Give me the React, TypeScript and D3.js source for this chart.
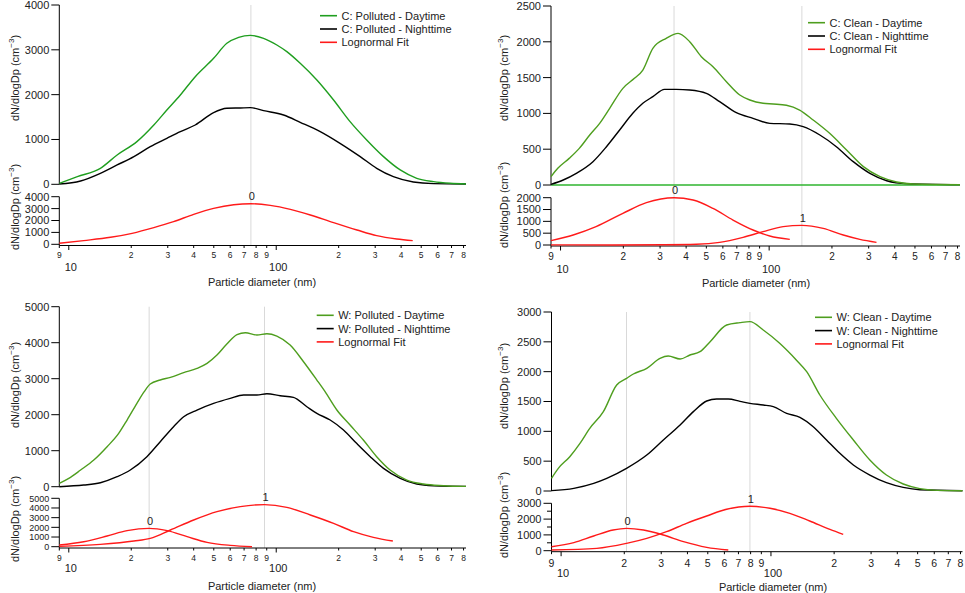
import React, { useEffect, useRef } from 'react';
import * as d3 from 'd3';

type Pt = [number, number];

// [diameter (nm), dN/dlogDp (cm^-3)]

// C: Polluted
const cPollutedDay: Pt[] = [
  [9, 22], [11, 171], [14.2, 357], [17.1, 654], [21.3, 952], [25.7, 1323], [29.7, 1658],
  [34.5, 1993], [40.7, 2401], [49.9, 2810], [57.8, 3145], [65.9, 3279], [75, 3323],
  [86.9, 3256], [100.7, 3108], [112.5, 2959], [130.5, 2699], [157, 2327], [189, 1881],
  [227, 1398], [273, 989], [329, 617], [396, 320], [476, 134], [573, 59], [689, 22], [822, 7],
];
const cPollutedNight: Pt[] = [
  [9, 7], [11.4, 74], [14.2, 245], [17.1, 431], [20.6, 617], [24.7, 840], [29.7, 1026],
  [34.5, 1175], [40.7, 1323], [49.9, 1599], [57.8, 1695], [67.2, 1703], [75, 1710],
  [86.9, 1643], [108.5, 1546], [130.5, 1383], [163, 1175], [203, 914], [254, 617],
  [305, 357], [367, 171], [458, 52], [573, 15], [822, 7],
];
const cPollutedFit0: Pt[] = [
  [9, 84], [11.8, 308], [15.9, 587], [20.2, 923], [25.7, 1399], [32, 1902], [40, 2517],
  [49.9, 3021], [62.4, 3329], [75.5, 3413], [93.6, 3273], [117, 2937], [146, 2462],
  [189, 1818], [245, 1203], [305, 727], [381, 448], [455, 308],
];

// C: Clean
const cCleanDay: Pt[] = [
  [9, 116], [9.7, 233], [11, 372], [12.3, 512], [13.8, 698], [15.4, 861], [17.2, 1071],
  [19.9, 1350], [22.6, 1490], [24.8, 1606], [27.7, 1909], [32.1, 2048], [36.6, 2118],
  [41.6, 2002], [47.3, 1792], [53.8, 1653], [62.4, 1443], [72.3, 1257], [80.8, 1187],
  [93.5, 1141], [104.5, 1131], [121, 1113], [140, 1047], [162.6, 908], [195, 722],
  [235, 489], [283, 256], [340, 116], [408, 42], [491, 14], [822, 5],
];
const cCleanNight: Pt[] = [
  [9, 9], [10.3, 70], [11.9, 163], [14.3, 326], [16.6, 535], [19.2, 768], [22.2, 1001],
  [24.8, 1141], [27.7, 1234], [31.5, 1336], [35.9, 1336], [41.6, 1327], [50, 1280],
  [57.9, 1164], [69.6, 1010], [83.7, 931], [100.7, 861], [125.6, 852], [145.6, 815],
  [175, 698], [210, 535], [253, 326], [304, 163], [366, 60], [456, 19], [822, 5],
];
const cCleanBase: Pt[] = [[9, 0], [822, 0]];
const cCleanFit0: Pt[] = [
  [9, 183], [11.5, 423], [14.8, 775], [19.9, 1338], [25.8, 1789], [35, 2000], [43.2, 1901],
  [53.8, 1549], [67.1, 1056], [83.7, 634], [100.7, 380], [125.6, 239],
];
const cCleanFit1: Pt[] = [
  [9, 5], [17.8, 2], [31, 10], [44.8, 30], [57.9, 110], [75, 324], [93.5, 563],
  [116.7, 775], [143.5, 831], [181.6, 704], [226.6, 423], [272, 239], [327, 113],
];

// W: Polluted
const wPollutedDay: Pt[] = [
  [9, 93], [10, 231], [11.4, 463], [13.2, 741], [15.3, 1111], [17.4, 1481], [19.1, 1852],
  [21.3, 2315], [23.1, 2639], [24.7, 2852], [27.6, 2963], [30.9, 3037], [35.8, 3167],
  [41.5, 3287], [46.4, 3426], [51.8, 3657], [57.8, 3963], [64.7, 4222], [71, 4278],
  [80.7, 4213], [90.2, 4250], [100.7, 4185], [116.7, 3935], [135.4, 3472], [157, 2963],
  [172, 2639], [196, 2130], [227, 1713], [263, 1296], [305, 833], [354, 463], [426, 185],
  [512, 74], [639, 28], [822, 9],
];
const wPollutedNight: Pt[] = [
  [9, 0], [11.8, 46], [14.2, 111], [17.1, 278], [19.8, 463], [23.8, 833], [27.6, 1250],
  [32, 1667], [35.8, 1944], [41.5, 2130], [49.9, 2315], [60, 2454], [69.6, 2546],
  [80.7, 2546], [90.2, 2583], [104.5, 2528], [121, 2481], [140.5, 2222], [157, 2037],
  [182, 1852], [211, 1574], [244, 1204], [284, 833], [329, 509], [396, 231], [476, 74],
  [573, 28], [822, 9],
];
const wPollutedFit0: Pt[] = [
  [9, 172], [11.8, 517], [15.3, 1103], [19.1, 1655], [24.4, 1897], [29.8, 1655],
  [37.2, 1034], [46.4, 448], [60, 138], [76.4, 0],
];
const wPollutedFit1: Pt[] = [
  [9, 34], [14.2, 241], [20.6, 586], [24.7, 862], [30.9, 1724], [40, 2759], [51.8, 3621],
  [67.1, 4138], [87.8, 4345], [112.5, 4069], [146, 3276], [189, 2414], [236, 1552],
  [294, 966], [365, 586],
];

// W: Clean
const wCleanDay: Pt[] = [
  [9, 212], [9.7, 380], [11, 575], [12.3, 799], [13.7, 1050], [15.9, 1330], [18.4, 1777],
  [20.5, 1888], [22.1, 1961], [25.6, 2056], [29.6, 2223], [32.4, 2263], [36.9, 2212],
  [41.1, 2279], [45.9, 2335], [51.3, 2503], [61.5, 2782], [71.2, 2821], [79.4, 2838],
  [91.9, 2698], [110, 2475], [132, 2196], [148, 2000], [171, 1609], [205, 1218],
  [247, 855], [296, 520], [355, 268], [427, 117], [512, 39], [615, 11], [818, 5],
];
const wCleanNight: Pt[] = [
  [9, 6], [11.5, 45], [14.3, 128], [16.5, 212], [20.5, 380], [25.6, 603], [30.7, 855],
  [36.9, 1106], [42.7, 1330], [49.4, 1508], [55.1, 1542], [62.6, 1542], [71.2, 1503],
  [79.4, 1469], [91.9, 1441], [102.6, 1413], [118.8, 1302], [137.4, 1235], [159, 1078],
  [184, 855], [213, 631], [247, 436], [296, 268], [355, 140], [427, 61], [512, 22], [818, 5],
];
const wCleanFit0: Pt[] = [
  [9, 254], [11.5, 507], [14.3, 930], [17.7, 1310], [20.5, 1415], [24.7, 1310],
  [30.7, 993], [38.3, 570], [49.4, 211], [62.6, 42],
];
const wCleanFit1: Pt[] = [
  [9, 42], [14.8, 148], [20.5, 465], [25.6, 782], [31.8, 1204], [39.6, 1732], [49.4, 2197],
  [61.5, 2620], [79.4, 2810], [98.9, 2683], [123, 2366], [153, 1880], [191, 1352], [221, 1035],
];

const xMinorTicks = [9, 20, 30, 40, 50, 60, 70, 80, 90, 200, 300, 400, 500, 600, 700, 800];
const xMajorTicks = [10, 100];

const FONT = 'Liberation Sans, Arial, Helvetica, sans-serif';
const RED = '#ff1a1a';

interface Layout {
  x0: number; x1: number; xMax: number;
  upTop: number; upZero: number; lowTop: number; lowZero: number; axisY: number;
  lowFont: number;
  digitY: number; digitSize: number; bigY: number; titleX: number; titleY: number;
  yTitleX: number; yTitleUp: number; yTitleLow: number;
  legX: number; legY: number;
}

interface PanelProps {
  name: string;
  day: Pt[]; night: Pt[]; base?: Pt[]; fits: Pt[][];
  green: string;
  upMax: number; upStep: number; lowTopTick: number; lowStep: number; lowMinor?: number;
  L: Layout;
}

const Panel: React.FC<PanelProps> = (p) => {
  const ref = useRef<SVGGElement | null>(null);

  useEffect(() => {
    if (!ref.current) return;
    const g = d3.select(ref.current);
    g.selectAll('*').remove();
    const L = p.L;

    const x = d3.scaleLog().domain([9, L.xMax]).range([L.x0, L.x1]);
    const yUp = d3.scaleLinear().domain([0, p.upMax]).range([L.upZero, L.upTop]);
    const yLow = d3.scaleLinear().domain([0, p.lowTopTick]).range([L.lowZero, L.lowTop]);

    // gray lines at the mode diameters
    p.fits.forEach(f => {
      const pk = f.reduce((a, b) => (b[1] > a[1] ? b : a));
      g.append('line')
        .attr('x1', x(pk[0])).attr('x2', x(pk[0]))
        .attr('y1', L.upTop).attr('y2', L.axisY)
        .attr('stroke', '#d9d9d9').attr('stroke-width', 1);
    });

    const yAxis = (scale: d3.ScaleLinear<number, number>, top: number, bottom: number,
      step: number, maxTick: number, fontSize: number, minor?: number) => {
      g.append('line').attr('x1', L.x0).attr('x2', L.x0).attr('y1', top).attr('y2', bottom)
        .attr('stroke', '#000').attr('stroke-width', 1);
      if (minor) {
        d3.range(minor, maxTick, minor).forEach(v => {
          if (v % step === 0) return;
          g.append('line').attr('x1', L.x0 - 4.5).attr('x2', L.x0)
            .attr('y1', scale(v)).attr('y2', scale(v)).attr('stroke', '#000');
        });
      }
      d3.range(0, maxTick + 1, step).forEach(v => {
        g.append('line').attr('x1', L.x0 - 8).attr('x2', L.x0)
          .attr('y1', scale(v)).attr('y2', scale(v)).attr('stroke', '#000');
        g.append('text').attr('x', L.x0 - 10).attr('y', scale(v) + fontSize * 0.36)
          .attr('text-anchor', 'end').attr('font-size', fontSize).attr('font-family', FONT)
          .attr('fill', '#222').text(String(v));
      });
    };
    yAxis(yUp, L.upTop, L.upZero, p.upStep, p.upMax, 11);
    yAxis(yLow, L.lowTop, L.axisY, p.lowStep, p.lowTopTick, L.lowFont, p.lowMinor);

    const yTitle = (cy: number) => {
      const t = g.append('text')
        .attr('transform', `translate(${L.yTitleX},${cy}) rotate(-90)`)
        .attr('text-anchor', 'middle').attr('font-size', 11).attr('font-family', FONT).attr('fill', '#222');
      t.append('tspan').text('dN/dlogDp (cm');
      t.append('tspan').attr('font-size', 8).attr('dy', -5).text('−3');
      t.append('tspan').attr('dy', 5).text(')');
    };
    yTitle(L.yTitleUp);
    yTitle(L.yTitleLow);

    // log x axis under the lower plot
    g.append('line').attr('x1', L.x0).attr('x2', L.x1).attr('y1', L.axisY).attr('y2', L.axisY)
      .attr('stroke', '#000').attr('stroke-width', 1);
    xMinorTicks.forEach(v => {
      g.append('line').attr('x1', x(v)).attr('x2', x(v)).attr('y1', L.axisY).attr('y2', L.axisY + 2.5)
        .attr('stroke', '#000');
      g.append('text').attr('x', x(v)).attr('y', L.digitY).attr('text-anchor', 'middle')
        .attr('font-size', L.digitSize).attr('font-family', FONT).attr('fill', '#222')
        .text(String(v).charAt(0));
    });
    xMajorTicks.forEach(v => {
      g.append('line').attr('x1', x(v)).attr('x2', x(v)).attr('y1', L.axisY).attr('y2', L.axisY + 4.5)
        .attr('stroke', '#000');
      g.append('text').attr('x', x(v) + 2).attr('y', L.bigY).attr('text-anchor', 'middle')
        .attr('font-size', 11).attr('font-family', FONT).attr('fill', '#222').text(String(v));
    });
    g.append('text').attr('x', L.titleX).attr('y', L.titleY).attr('text-anchor', 'middle')
      .attr('font-size', 11).attr('font-family', FONT).attr('fill', '#222').text('Particle diameter (nm)');

    const line = (ys: d3.ScaleLinear<number, number>) => d3.line<Pt>()
      .x(d => x(d[0])).y(d => ys(d[1])).curve(d3.curveMonotoneX);
    const draw = (data: Pt[], ys: d3.ScaleLinear<number, number>, color: string) => {
      g.append('path').datum(data).attr('d', line(ys)).attr('fill', 'none')
        .attr('stroke', color).attr('stroke-width', 1.4).attr('stroke-linejoin', 'round');
    };
    if (p.base) draw(p.base, yUp, '#2fb52f');
    draw(p.night, yUp, '#000');
    draw(p.day, yUp, p.green);

    p.fits.forEach((f, i) => {
      draw(f, yLow, RED);
      const pk = f.reduce((a, b) => (b[1] > a[1] ? b : a));
      g.append('text').attr('x', x(pk[0]) + 1).attr('y', yLow(pk[1]) - 3.5).attr('text-anchor', 'middle')
        .attr('font-size', 11).attr('font-family', FONT).attr('fill', '#222').text(String(i));
    });

    const items: [string, string][] = [
      [`${p.name} - Daytime`, p.green],
      [`${p.name} - Nighttime`, '#000'],
      ['Lognormal Fit', RED],
    ];
    items.forEach(([label, color], i) => {
      const yy = L.legY + i * 13.3;
      g.append('line').attr('x1', L.legX).attr('x2', L.legX + 17).attr('y1', yy).attr('y2', yy)
        .attr('stroke', color).attr('stroke-width', 1.6);
      g.append('text').attr('x', L.legX + 21.5).attr('y', yy + 4)
        .attr('font-size', 11).attr('font-family', FONT).attr('fill', '#222').text(label);
    });
  }, [p]);

  return <g ref={ref} />;
};

const L1: Layout = {
  x0: 59.3, x1: 466, xMax: 822, upTop: 5, upZero: 184.3, lowTop: 196.7, lowZero: 244.3, axisY: 245.5,
  lowFont: 11, digitY: 258, digitSize: 8.5, bigY: 271, titleX: 262, titleY: 286,
  yTitleX: 18.5, yTitleUp: 78, yTitleLow: 207, legX: 320, legY: 15.7,
};
const L2: Layout = {
  x0: 551, x1: 960, xMax: 822, upTop: 6, upZero: 185, lowTop: 197.7, lowZero: 245, axisY: 246,
  lowFont: 11, digitY: 260, digitSize: 10, bigY: 273, titleX: 756, titleY: 286.5,
  yTitleX: 508, yTitleUp: 78, yTitleLow: 205, legX: 808, legY: 22.7,
};
const L3: Layout = {
  x0: 59.3, x1: 466, xMax: 822, upTop: 306.7, upZero: 486.7, lowTop: 498.3, lowZero: 546.7, axisY: 548,
  lowFont: 9, digitY: 561, digitSize: 8.5, bigY: 571.5, titleX: 262, titleY: 589.5,
  yTitleX: 18.5, yTitleUp: 385, yTitleLow: 519, legX: 316.7, legY: 315.3,
};
const L4: Layout = {
  x0: 551.5, x1: 962.5, xMax: 818, upTop: 312, upZero: 491, lowTop: 503.3, lowZero: 550.7, axisY: 551.7,
  lowFont: 11, digitY: 567, digitSize: 10.5, bigY: 577, titleX: 773, titleY: 590.5,
  yTitleX: 508, yTitleUp: 386, yTitleLow: 515, legX: 815, legY: 317.3,
};

const App: React.FC = () => (
  <svg width={965} height={593} style={{ position: 'absolute', left: 0, top: 0, background: '#fff' }}>
    <Panel name="C: Polluted" day={cPollutedDay} night={cPollutedNight} fits={[cPollutedFit0]}
      green="#1f9e1f" upMax={4000} upStep={1000} lowTopTick={4000} lowStep={1000} L={L1} />
    <Panel name="C: Clean" day={cCleanDay} night={cCleanNight} base={cCleanBase} fits={[cCleanFit0, cCleanFit1]}
      green="#4e9e1e" upMax={2500} upStep={500} lowTopTick={2000} lowStep={500} L={L2} />
    <Panel name="W: Polluted" day={wPollutedDay} night={wPollutedNight} fits={[wPollutedFit0, wPollutedFit1]}
      green="#4e9e1e" upMax={5000} upStep={1000} lowTopTick={5000} lowStep={1000} L={L3} />
    <Panel name="W: Clean" day={wCleanDay} night={wCleanNight} fits={[wCleanFit0, wCleanFit1]}
      green="#4e9e1e" upMax={3000} upStep={500} lowTopTick={3000} lowStep={1000} lowMinor={500} L={L4} />
  </svg>
);

export default App;
